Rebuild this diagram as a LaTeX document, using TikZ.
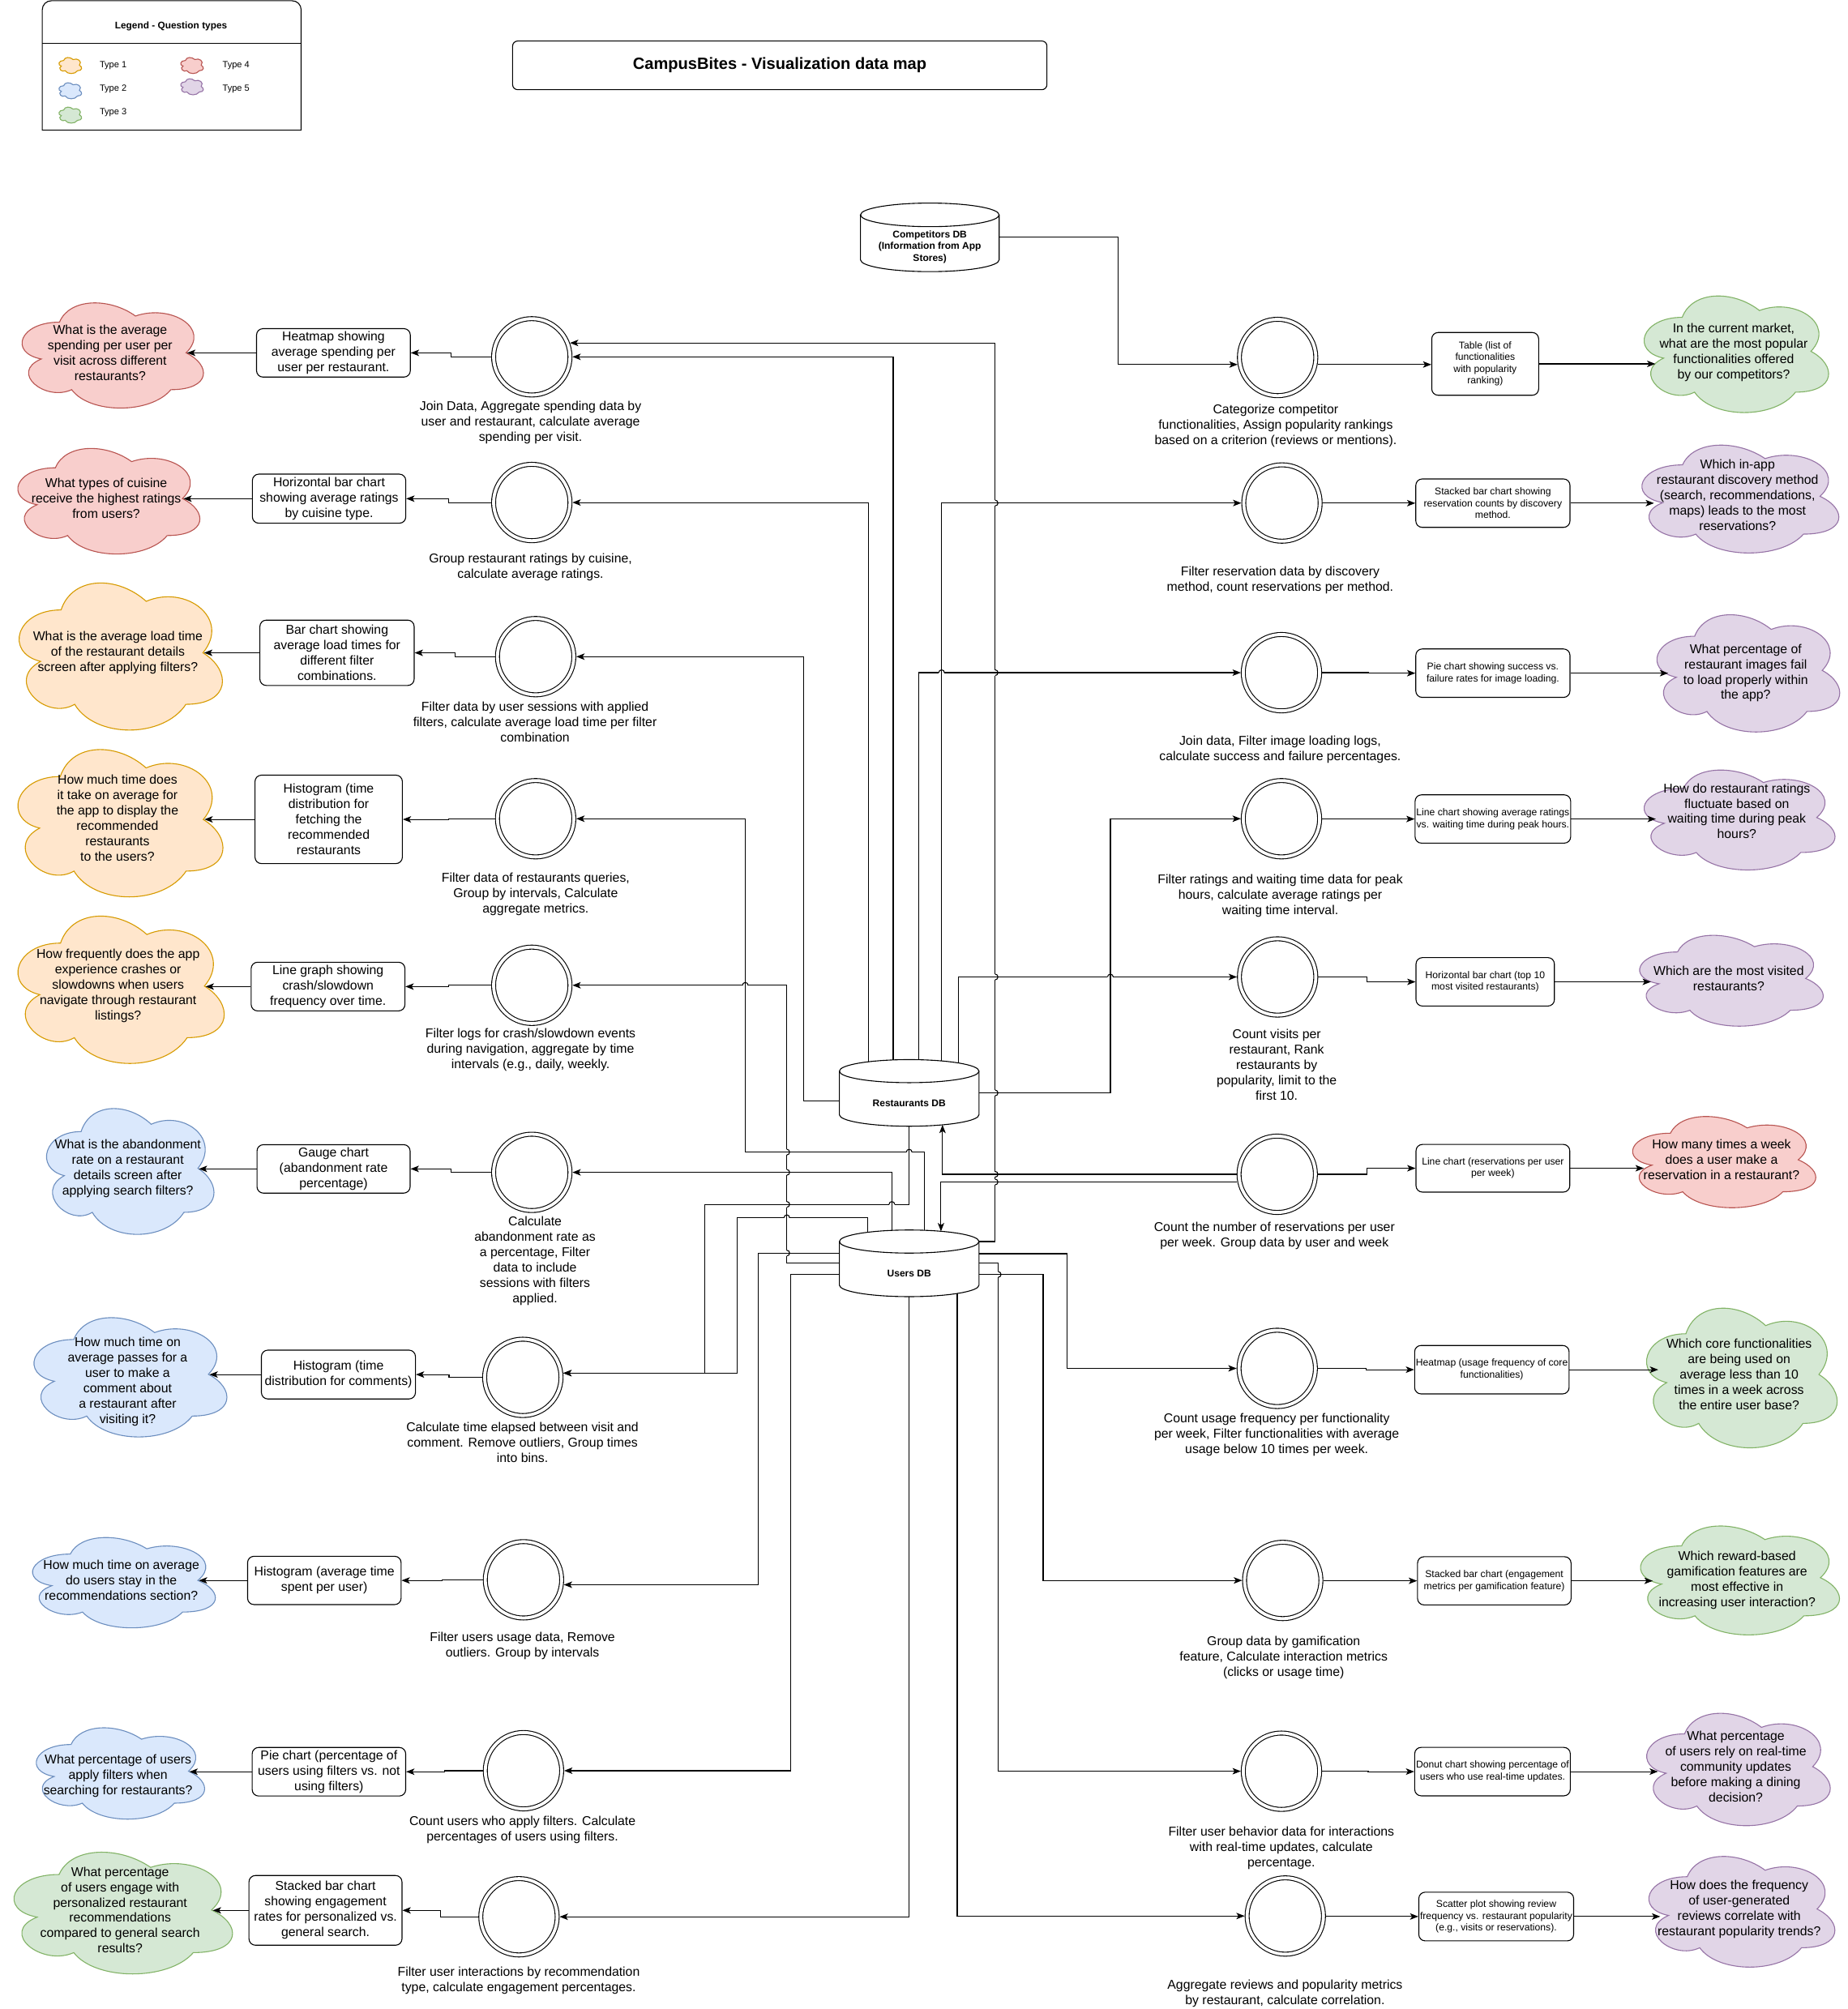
\documentclass[tikz,border=0pt]{standalone}
\usepackage{fontspec}
\setmainfont{Liberation Sans}
\usetikzlibrary{arrows.meta,calc}
\definecolor{orF}{HTML}{FFE6CC}\definecolor{orD}{HTML}{D79B00}
\definecolor{blF}{HTML}{DAE8FC}\definecolor{blD}{HTML}{6C8EBF}
\definecolor{grF}{HTML}{D5E8D4}\definecolor{grD}{HTML}{82B366}
\definecolor{rdF}{HTML}{F8CECC}\definecolor{rdD}{HTML}{B85450}
\definecolor{puF}{HTML}{E1D5E7}\definecolor{puD}{HTML}{9673A6}
\tikzset{
  conn/.style={draw, line width=0.7pt, -{Stealth[length=6.5pt,width=5pt,inset=1.6pt]}},
  proc/.style={circle, draw, line width=0.7pt, double, double distance=2.4pt, minimum size=59.6pt, inner sep=0pt, outer sep=1.9pt},
  lbl/.style={align=center, inner sep=0pt, font=\fontsize{10}{12}\selectfont},
  cbox/.style={draw, line width=0.7pt, rounded corners=5pt, align=center, inner sep=1pt, font=\fontsize{10}{12}\selectfont},
  sbox/.style={cbox, font=\fontsize{7.7}{9.2}\selectfont},
  dbtxt/.style={align=center, inner sep=0pt, font=\bfseries\fontsize{7.6}{9.1}\selectfont},
  dbline/.style={draw, line width=0.7pt, fill=white},
  ghost/.style={inner sep=0pt, outer sep=0pt},
  thin/.style={line width=0.7pt},
  torange/.style={fill=orF, draw=orD},
  tblue/.style={fill=blF, draw=blD},
  tgreen/.style={fill=grF, draw=grD},
  tred/.style={fill=rdF, draw=rdD},
  tpurple/.style={fill=puF, draw=puD},
}
\newcommand{\cloudshape}[5]{%
  \pgfmathsetmacro\qw{(#4-#2)/0.896}%
  \pgfmathsetmacro\qh{(#5-#3)/0.857}%
  \pgfmathsetmacro\qx{#2-0.065*\qw}%
  \pgfmathsetmacro\qy{#3-0.093*\qh}%
  \path[#1, line width=0.7pt, shift={(\qx,\qy)}, xscale=\qw, yscale=\qh]
    (0.25,0.25) .. controls (0.05,0.25) and (0,0.5) .. (0.16,0.55)
    .. controls (0,0.66) and (0.18,0.9) .. (0.31,0.8)
    .. controls (0.4,1) and (0.7,1) .. (0.8,0.8)
    .. controls (1,0.8) and (1,0.6) .. (0.875,0.5)
    .. controls (1,0.3) and (0.8,0.1) .. (0.625,0.2)
    .. controls (0.5,0.05) and (0.3,0.05) .. (0.25,0.25) -- cycle;}
\newcommand{\qcloud}[8]{%
  \cloudshape{#2}{#3}{#4}{#5}{#6}%
  \pgfmathsetmacro\qcx{\qx+0.5*\qw}%
  \pgfmathsetmacro\qcy{\qy+0.5*\qh}%
  \pgfmathsetmacro\qaw{0.76*\qw}%
  \node[ghost, minimum width=\qaw pt, minimum height=10pt] (#1) at (\qcx,\qcy) {};
  \node[lbl] (#1t) at (\qcx,\qcy+#8) {#7};}
% line jumps: vertical line hops (bump to the right) / horizontal line hops (bump up)
\newcommand{\vjump}[2]{%
  \fill[white] (#1-0.9,#2-2.2) rectangle (#1+0.9,#2+2.2);
  \draw[thin] (#1-2.6,#2) -- (#1+2.6,#2);
  \draw[thin] (#1,#2-2.2) arc[start angle=90,end angle=-90,radius=2.2pt];}
\newcommand{\hjump}[2]{%
  \fill[white] (#1-2.2,#2-0.9) rectangle (#1+2.2,#2+0.9);
  \draw[thin] (#1,#2-2.6) -- (#1,#2+2.6);
  \draw[thin] (#1-2.2,#2) arc[start angle=180,end angle=0,radius=2.2pt];}
\begin{document}
\begin{tikzpicture}[x=1pt,y=-1pt]
\useasboundingbox (0,0) rectangle (1442,1568);
\fill[white] (0,0) rectangle (1442,1568);

% ---------- legend ----------
\path[draw, line width=0.7pt] (33,101.6) -- (33,20) [rounded corners=7pt] -- (33,0.6) -- (235,0.6) -- (235,20) [sharp corners] -- (235,101.6) -- cycle;
\draw[thin] (33,33.7) -- (235,33.7);
\node[font=\bfseries\fontsize{7.5}{9}\selectfont, inner sep=0pt] (legt) at (133.5,20.5) {Legend - Question types};
\cloudshape{torange}{46}{44.9}{63.7}{57.4}
\cloudshape{tblue}{46}{64.6}{63.7}{77.1}
\cloudshape{tgreen}{46}{83.6}{63.7}{96.1}
\cloudshape{tred}{141}{44.9}{158.7}{57.4}
\cloudshape{tpurple}{141}{61.5}{158.7}{74}
\node[anchor=west, inner sep=0pt, font=\fontsize{7}{8}\selectfont] (lt1) at (77.6,51.2) {Type 1};
\node[anchor=west, inner sep=0pt, font=\fontsize{7}{8}\selectfont] (lt2) at (77.6,69.2) {Type 2};
\node[anchor=west, inner sep=0pt, font=\fontsize{7}{8}\selectfont] (lt3) at (77.6,87.6) {Type 3};
\node[anchor=west, inner sep=0pt, font=\fontsize{7}{8}\selectfont] (lt4) at (173.5,51.2) {Type 4};
\node[anchor=west, inner sep=0pt, font=\fontsize{7}{8}\selectfont] (lt5) at (173.5,69.2) {Type 5};

% ---------- title ----------
\node[draw, line width=0.7pt, rounded corners=4pt, minimum width=417pt, minimum height=38pt, inner sep=0pt, font=\bfseries\fontsize{12.7}{15}\selectfont] (title) at (608.5,51) {CampusBites - Visualization data map};

% ---------- databases ----------
\path[dbline] (671.5,167.7) -- (671.5,202.8) arc[start angle=180,end angle=360,x radius=54.1pt,y radius=9.2pt] -- (779.7,167.7) arc[start angle=0,end angle=180,x radius=54.1pt,y radius=9.2pt] -- cycle;
\draw[thin] (671.5,167.7) arc[start angle=180,end angle=360,x radius=54.1pt,y radius=9.2pt];
\node[ghost, minimum width=108.2pt, minimum height=53.5pt] (cdb) at (725.6,185.2) {};
\node[dbtxt] (cdbt) at (725.6,192.8) {Competitors DB\\(Information from App\\Stores)};

\path[dbline] (655,836) -- (655,870) arc[start angle=180,end angle=360,x radius=54.5pt,y radius=9pt] -- (764,836) arc[start angle=0,end angle=180,x radius=54.5pt,y radius=9pt] -- cycle;
\draw[thin] (655,836) arc[start angle=180,end angle=360,x radius=54.5pt,y radius=9pt];
\node[ghost, minimum width=109pt, minimum height=52pt] (rdb) at (709.5,853) {};
\node[dbtxt] (rdbt) at (709.5,861) {Restaurants DB};

\path[dbline] (655,969) -- (655,1003) arc[start angle=180,end angle=360,x radius=54.5pt,y radius=9pt] -- (764,969) arc[start angle=0,end angle=180,x radius=54.5pt,y radius=9pt] -- cycle;
\draw[thin] (655,969) arc[start angle=180,end angle=360,x radius=54.5pt,y radius=9pt];
\node[ghost, minimum width=109pt, minimum height=52pt] (udb) at (709.5,986) {};
\node[dbtxt] (udbt) at (709.5,994) {Users DB};

% ---------- process circles ----------
\node[proc] (L1) at (415,278.5) {};
\node[proc] (L2) at (415,392.2) {};
\node[proc] (L3) at (418,512.5) {};
\node[proc] (L4) at (418,639) {};
\node[proc] (L5) at (415,769) {};
\node[proc] (L6) at (415,915) {};
\node[proc] (L7) at (408,1075) {};
\node[proc] (L8) at (408.5,1233) {};
\node[proc] (L9) at (408.5,1382) {};
\node[proc] (L10) at (405,1496) {};
\node[proc] (R1) at (997,279) {};
\node[proc] (R2) at (1000.4,392.6) {};
\node[proc] (R3) at (1000,525) {};
\node[proc] (R4) at (1000,639) {};
\node[proc] (R5) at (997,762.5) {};
\node[proc] (R6) at (996.7,916.5) {};
\node[proc] (R7) at (996.7,1068) {};
\node[proc] (R8) at (1001,1233.5) {};
\node[proc] (R9) at (1000,1382.4) {};
\node[proc] (R10) at (1003,1495.4) {};

% ---------- process labels ----------
\node[lbl] (L1l) at (414,329.5) {Join Data, Aggregate spending data by\\user and restaurant, calculate average\\spending per visit.};
\node[lbl] (L2l) at (414,443) {Group restaurant ratings by cuisine,\\calculate average ratings.};
\node[lbl] (L3l) at (417.5,563.5) {Filter data by user sessions with applied\\filters, calculate average load time per filter\\combination};
\node[lbl] (L4l) at (418,698) {Filter data of restaurants queries,\\Group by intervals, Calculate\\aggregate metrics.};
\node[lbl] (L5l) at (414,819.5) {Filter logs for crash/slowdown events\\during navigation, aggregate by time\\intervals (e.g., daily, weekly.};
\node[lbl] (L6l) at (417.5,983.9) {Calculate\\abandonment rate as\\a percentage, Filter\\data to include\\sessions with filters\\applied.};
\node[lbl] (L7l) at (407.7,1126) {Calculate time elapsed between visit and\\comment. Remove outliers, Group times\\into bins.};
\node[lbl] (L8l) at (407.7,1284.3) {Filter users usage data, Remove\\outliers. Group by intervals};
\node[lbl] (L9l) at (407.7,1428.3) {Count users who apply filters. Calculate\\percentages of users using filters.};
\node[lbl] (L10l) at (404.8,1545.8) {Filter user interactions by recommendation\\type, calculate engagement percentages.};
\node[lbl] (R1l) at (995.5,332.5) {Categorize competitor\\functionalities, Assign popularity rankings\\based on a criterion (reviews or mentions).};
\node[lbl] (R2l) at (999,452.6) {Filter reservation data by discovery\\method, count reservations per method.};
\node[lbl] (R3l) at (999,585.2) {Join data, Filter image loading logs,\\calculate success and failure percentages.};
\node[lbl] (R4l) at (999.1,699) {Filter ratings and waiting time data for peak\\hours, calculate average ratings per\\waiting time interval.};
\node[lbl] (R5l) at (996.3,830.8) {Count visits per\\restaurant, Rank\\restaurants by\\popularity, limit to the\\first 10.};
\node[lbl] (R6l) at (994.5,964.7) {Count the number of reservations per user\\per week. Group data by user and week};
\node[lbl] (R7l) at (996.3,1119.8) {Count usage frequency per functionality\\per week, Filter functionalities with average\\usage below 10 times per week.};
\node[lbl] (R8l) at (1001.7,1293.9) {Group data by gamification\\feature, Calculate interaction metrics\\(clicks or usage time)};
\node[lbl] (R9l) at (999.9,1442.3) {Filter user behavior data for interactions\\with real-time updates, calculate\\percentage.};
\node[lbl] (R10l) at (1002.8,1555.6) {Aggregate reviews and popularity metrics\\by restaurant, calculate correlation.};

% ---------- chart boxes ----------
\node[cbox, minimum width=120pt, minimum height=37.8pt] (LB1) at (260.2,275.4) {Heatmap showing\\average spending per\\user per restaurant.};
\node[cbox, minimum width=119.7pt, minimum height=38.3pt] (LB2) at (256.8,389.2) {Horizontal bar chart\\showing average ratings\\by cuisine type.};
\node[cbox, minimum width=120.4pt, minimum height=51pt] (LB3) at (263,509.5) {Bar chart showing\\average load times for\\different filter\\combinations.};
\node[cbox, minimum width=115pt, minimum height=69pt] (LB4) at (256.5,639.5) {Histogram (time\\distribution for\\fetching the\\recommended\\restaurants};
\node[cbox, minimum width=120pt, minimum height=38pt] (LB5) at (256,770) {Line graph showing\\crash/slowdown\\frequency over time.};
\node[cbox, minimum width=119.5pt, minimum height=37.8pt] (LB6) at (260.3,912.3) {Gauge chart\\(abandonment rate\\percentage)};
\node[cbox, minimum width=120.2pt, minimum height=38.1pt] (LB7) at (264.1,1072.8) {Histogram (time\\distribution for comments)};
\node[cbox, minimum width=119.8pt, minimum height=37.7pt] (LB8) at (253.1,1233.5) {Histogram (average time\\spent per user)};
\node[cbox, minimum width=119.8pt, minimum height=37.9pt] (LB9) at (256.7,1382.8) {Pie chart (percentage of\\users using filters vs. not\\using filters)};
\node[cbox, minimum width=119.4pt, minimum height=54.4pt] (LB10) at (254,1491) {Stacked bar chart\\showing engagement\\rates for personalized vs.\\general search.};

\node[sbox, minimum width=83.4pt, minimum height=49pt] (RB1) at (1159,284) {Table (list of\\functionalities\\with popularity\\ranking)};
\node[sbox, minimum width=120.3pt, minimum height=37.8pt] (RB2) at (1165,392.7) {Stacked bar chart showing\\reservation counts by discovery\\method.};
\node[sbox, minimum width=120.3pt, minimum height=37.8pt] (RB3) at (1165,525.4) {Pie chart showing success vs.\\failure rates for image loading.};
\node[sbox, minimum width=120.3pt, minimum height=37.7pt] (RB4) at (1165,639.2) {Line chart showing average ratings\\vs. waiting time during peak hours.};
\node[sbox, minimum width=108pt, minimum height=37.8pt] (RB5) at (1159,766.3) {Horizontal bar chart (top 10\\most visited restaurants)};
\node[sbox, minimum width=120pt, minimum height=37.2pt] (RB6) at (1165,911.8) {Line chart (reservations per user\\per week)};
\node[sbox, minimum width=120.5pt, minimum height=37.8pt] (RB7) at (1164.2,1069) {Heatmap (usage frequency of core\\functionalities)};
\node[sbox, minimum width=119.8pt, minimum height=37.6pt] (RB8) at (1166.1,1233.8) {Stacked bar chart (engagement\\metrics per gamification feature)};
\node[sbox, minimum width=120.6pt, minimum height=37.8pt] (RB9) at (1164.7,1382.7) {Donut chart showing percentage of\\users who use real-time updates.};
\node[sbox, minimum width=119.8pt, minimum height=38pt] (RB10) at (1167.6,1495.8) {Scatter plot showing review\\frequency vs. restaurant popularity\\(e.g., visits or reservations).};

% ---------- question clouds ----------
\qcloud{Q1}{tred}{17.2}{236.4}{158.8}{318.5}{What is the average\\spending per user per\\visit across different\\restaurants?}{0}
\qcloud{Q2}{tred}{13.9}{350}{156}{432.4}{What types of cuisine\\receive the highest ratings\\from users?}{0}
\qcloud{Q3}{torange}{14.9}{455}{173.6}{569.8}{What is the average load time\\of the restaurant details\\screen after applying filters?}{0}
\qcloud{Q4}{torange}{14}{585}{174}{700}{How much time does\\it take on average for\\the app to display the\\recommended\\restaurants\\to the users?}{-1}
\qcloud{Q5}{torange}{14}{715}{175}{830}{How frequently does the app\\experience crashes or\\slowdowns when users\\navigate through restaurant\\listings?}{0}
\qcloud{Q6}{tblue}{36.3}{865.2}{167}{963.4}{What is the abandonment\\rate on a restaurant\\details screen after\\applying search filters?}{0}
\qcloud{Q7}{tblue}{26.5}{1028.4}{177.1}{1121.5}{How much time on\\average passes for a\\user to make a\\comment about\\a restaurant after\\visiting it?}{6}
\qcloud{Q8}{tblue}{25.4}{1200}{168.1}{1270.5}{How much time on average\\do users stay in the\\recommendations section?}{0}
\qcloud{Q9}{tblue}{28.3}{1348.5}{159.7}{1419.8}{What percentage of users\\apply filters when\\searching for restaurants?}{4}
\qcloud{Q10}{tgreen}{10.9}{1445.6}{181.5}{1540.6}{What percentage\\of users engage with\\personalized restaurant\\recommendations\\compared to general search\\results?}{0}

\qcloud{P1}{tgreen}{1283}{231}{1427}{322}{In the current market,\\what are the most popular\\functionalities offered\\by our competitors?}{1}
\qcloud{P2}{tpurple}{1281.3}{347.4}{1435}{431.6}{Which in-app\\restaurant discovery method\\(search, recommendations,\\maps) leads to the most\\reservations?}{-1}
\qcloud{P3}{tpurple}{1293}{479.8}{1435.7}{571.3}{What percentage of\\restaurant images fail\\to load properly within\\the app?}{2}
\qcloud{P4}{tpurple}{1283}{601}{1432}{679}{How do restaurant ratings\\fluctuate based on\\waiting time during peak\\hours?}{-5}
\qcloud{P5}{tpurple}{1279.5}{730}{1422.8}{800.9}{Which are the most visited\\restaurants?}{0}
\qcloud{P6}{tred}{1274}{871.4}{1417}{942.6}{How many times a week\\does a user make a\\reservation in a restaurant?}{0}
\qcloud{P7}{tgreen}{1284.9}{1021}{1433.7}{1130}{Which core functionalities\\are being used on\\average less than 10\\times in a week across\\the entire user base?}{0}
\qcloud{P8}{tgreen}{1280.2}{1191}{1435.5}{1276}{Which reward-based\\gamification features are\\most effective in\\increasing user interaction?}{2}
\qcloud{P9}{tpurple}{1285}{1337.2}{1428.3}{1424.9}{What percentage\\of users rely on real-time\\community updates\\before making a dining\\decision?}{0}
\qcloud{P10}{tpurple}{1286.7}{1448.9}{1431.9}{1535.3}{How does the frequency\\of user-generated\\reviews correlate with\\restaurant popularity trends?}{0}

% ---------- process -> chart -> question ----------
\foreach \i in {1,...,10} {
  \draw[conn] (L\i.west) -| ($(L\i.west)!.5!(LB\i.east)$) |- (LB\i.east);
  \draw[conn] (LB\i.west) -- (LB\i.west -| Q\i.east);
  \draw[conn] (RB\i.east) -- (RB\i.east -| P\i.west);
}
\foreach \i in {2,...,10} {
  \draw[conn] (R\i.east) -| ($(R\i.east)!.5!(RB\i.west)$) |- (RB\i.west);
}
\draw[conn] (R1.-10) -- (R1.-10 -| RB1.west);

% ---------- database -> process ----------
\draw[conn] ([yshift=-9pt]udb.north east) -- ++(12.6,0) |- (L1.20);
\draw[conn] ([xshift=-12.5pt,yshift=-0.3pt]rdb.north) |- (L1.east);
\draw[conn] ([xshift=-31.7pt,yshift=-1.7pt]rdb.north) |- (L2.east);
\draw[conn] ([yshift=-6pt]rdb.west) -- ++(-28,0) |- (L3.east);
\draw[conn] ([xshift=11.9pt,yshift=-0.2pt]udb.north) |- ++(-139.8,-61) |- (L4.east);
\draw[conn] (udb.west) -- ++(-41,0) |- (L5.east);
\draw[conn] ([xshift=-13.5pt,yshift=-0.3pt]udb.north) |- (L6.east);
\draw[conn] (rdb.south) |- ++(-159.5,61) |- (L7.6);
\draw[conn] ([xshift=-32.5pt,yshift=-1.7pt]udb.north) |- ++(-101.6,-11.3) |- (L7.6);
\draw[conn] ([yshift=8pt]udb.west) -- ++(-63.5,0) |- (L8.-7);
\draw[conn] ([yshift=-8.7pt]udb.west) -- ++(-38.2,0) |- (L9.east);
\draw[conn] (udb.south) |- (L10.east);

\draw[conn] (cdb.east) -- ++(92.6,0) |- (R1.190);
\draw[conn] ([xshift=25.3pt,yshift=-1pt]rdb.north) |- (R2.west);
\draw[conn] ([xshift=7.5pt,yshift=-0.1pt]rdb.north) |- (R3.west);
\draw[conn] (rdb.east) -- ++(102.5,0) |- (R4.west);
\draw[conn] ([xshift=38.5pt,yshift=-2.6pt]rdb.north) |- (R5.west);
\draw[conn] (R6.west) -| ([xshift=26pt,yshift=1.1pt]rdb.south);
\draw[conn] ([yshift=-6pt]R6.west) -| ([xshift=24.8pt,yshift=-1pt]udb.north);
\draw[conn] ([yshift=7.5pt]udb.east) -- ++(68.8,0) |- (R7.west);
\draw[conn] ([yshift=-8.7pt]udb.east) -- ++(50,0) |- (R8.west);
\draw[conn] (udb.east) -- ++(15,0) |- (R9.west);
\draw[conn] ([xshift=37.5pt,yshift=2.5pt]udb.south) |- (R10.west);

% ---------- line jumps ----------
\vjump{614}{899.2}
\vjump{614}{915}
\vjump{614}{940}
\vjump{614}{978}
\vjump{776.6}{392.6}
\vjump{776.6}{525}
\vjump{776.6}{762.5}
\vjump{776.6}{853}
\vjump{776.6}{916.5}
\vjump{776.6}{922.5}
\vjump{779}{994.7}
\hjump{614}{950.4}
\hjump{709.5}{899.2}
\hjump{696}{940}
\hjump{734.8}{525}
\hjump{581.6}{769}
\hjump{866.5}{762.5}
\end{tikzpicture}
\end{document}
